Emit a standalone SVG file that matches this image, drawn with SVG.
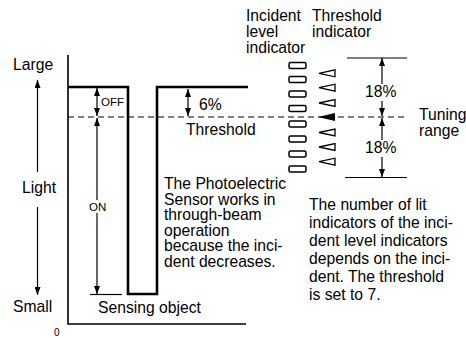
<svg xmlns="http://www.w3.org/2000/svg" width="466" height="338" viewBox="0 0 466 338">
<defs>
<marker id="ah" viewBox="0 0 8 6" markerWidth="8" markerHeight="6" refX="8" refY="3" orient="auto-start-reverse" markerUnits="userSpaceOnUse">
<path d="M0,0 L8,3 L0,6 z" fill="#000"/>
</marker>
<style>
text{font-family:"Liberation Sans",Arial,sans-serif;font-size:15.7px;fill:#000}
.sm{font-size:11.5px}
.zero{font-size:10px}
.ln{stroke:#000;stroke-width:1.2;fill:none}
.ax{stroke:#000;stroke-width:1.6;fill:none}
.sig{stroke:#000;stroke-width:2.6;fill:none}
.dash{stroke:#000;stroke-width:1.2;stroke-dasharray:6,4;fill:none}
.led{fill:#fff;stroke:#000;stroke-width:1.5}
.tri{fill:#fff;stroke:#000;stroke-width:1.3;stroke-linejoin:miter}
.arr{marker-end:url(#ah)}
.arr2{marker-start:url(#ah);marker-end:url(#ah)}
</style>
</defs>
<rect width="466" height="338" fill="#fff"/>
<g id="axes">
<path class="ax" d="M68,55 V324 H246"/>
<text x="54" y="336" class="zero">0</text>
<text x="13" y="70">Large</text>
<text x="22" y="193">Light</text>
<text x="13" y="312">Small</text>
</g>
<g id="signal">
<path class="sig" d="M68,87 H128 V294 H157 V87 H248"/>
<text x="98" y="313">Sensing object</text>
</g>
<g id="connectors">
<line class="ln arr" x1="37.5" y1="172" x2="37.5" y2="80"/>
<line class="ln arr" x1="37.5" y1="207" x2="37.5" y2="295"/>
<line class="dash" x1="68" y1="117" x2="408" y2="117"/>
<line class="ln arr2" x1="97" y1="88" x2="97" y2="116"/>
<line class="ln" x1="97" y1="118" x2="97" y2="200" marker-start="url(#ah)"/>
<line class="ln arr" x1="97" y1="213" x2="97" y2="294"/>
<line class="ln" x1="90" y1="294.5" x2="122" y2="294.5"/>
<line class="ln arr2" x1="188" y1="89" x2="188" y2="116"/>
<line class="ln" x1="347" y1="58" x2="407" y2="58"/>
<line class="ln" x1="345" y1="177.5" x2="407" y2="177.5"/>
<line class="ln" x1="382" y1="84" x2="382" y2="58" marker-end="url(#ah)"/>
<line class="ln arr" x1="382" y1="101" x2="382" y2="116"/>
<line class="ln" x1="382" y1="140" x2="382" y2="118" marker-end="url(#ah)"/>
<line class="ln arr" x1="382" y1="157" x2="382" y2="177"/>
</g>
<g id="labels">
<text x="101" y="106" class="sm">OFF</text>
<text x="89" y="211" class="sm">ON</text>
<text x="199" y="110">6%</text>
<text x="186" y="135">Threshold</text>
<text x="365" y="97">18%</text>
<text x="365" y="153">18%</text>
<text x="419" y="120">Tuning</text>
<text x="419" y="136">range</text>
</g>
<g id="incident-level-indicator">
<text x="246" y="21">Incident</text>
<text x="246" y="37">level</text>
<text x="246" y="53">indicator</text>
<rect class="led" x="289" y="62.5" width="17" height="6" rx="1.5"/>
<rect class="led" x="289" y="76.5" width="17" height="6" rx="1.5"/>
<rect class="led" x="289" y="91" width="17" height="6" rx="1.5"/>
<rect class="led" x="289" y="105.5" width="17" height="6" rx="1.5"/>
<rect class="led" x="289" y="121" width="17" height="6" rx="1.5"/>
<rect class="led" x="289" y="136" width="17" height="6" rx="1.5"/>
<rect class="led" x="289" y="151" width="17" height="6" rx="1.5"/>
<rect class="led" x="289" y="166" width="17" height="6" rx="1.5"/>
</g>
<g id="threshold-indicator">
<text x="312" y="21">Threshold</text>
<text x="312" y="37">indicator</text>
<polygon class="tri" points="319,73.3 335,69.8 335,76.8"/>
<polygon class="tri" points="319,87.7 335,84.2 335,91.2"/>
<polygon class="tri" points="319,103 335,99.5 335,106.5"/>
<polygon points="318,117 335,113 335,121" fill="#000"/>
<polygon class="tri" points="319,132.5 335,129 335,136"/>
<polygon class="tri" points="319,147 335,143.5 335,150.5"/>
<polygon class="tri" points="319,161.7 335,158.2 335,165.2"/>
</g>
<g id="notes">
<text x="164" y="189">The Photoelectric</text>
<text x="164" y="204.5">Sensor works in</text>
<text x="164" y="220">through-beam</text>
<text x="164" y="235.5">operation</text>
<text x="164" y="251">because the inci-</text>
<text x="164" y="266.5">dent decreases.</text>
<text x="309" y="210">The number of lit</text>
<text x="309" y="228">indicators of the inci-</text>
<text x="309" y="246">dent level indicators</text>
<text x="309" y="264">depends on the inci-</text>
<text x="309" y="282">dent. The threshold</text>
<text x="309" y="300">is set to 7.</text>
</g>
</svg>
